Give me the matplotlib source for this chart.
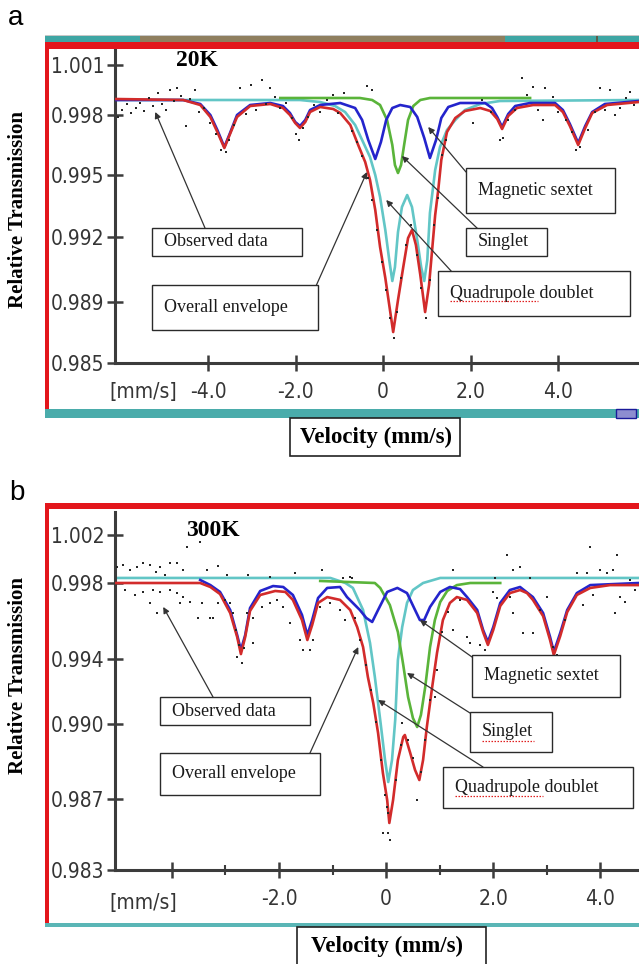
import numpy as np
import matplotlib
matplotlib.use("Agg")
import matplotlib.pyplot as plt
from matplotlib import font_manager
from matplotlib.patches import Rectangle
from matplotlib.lines import Line2D

W, H = 639, 964

# ---------------- panel a : 20 K ----------------
a_sext_v = [-6.13, -4.57, -4.18, -3.95, -3.79, -3.63, -3.50, -3.34, -3.04, -2.58,
            -2.29, -2.13, -2.01, -1.90, -1.78, -1.67, -1.44, -0.98, -0.64, -0.48,
            -0.34, -0.18, -0.05, 0.07, 0.21, 0.39, 0.62, 0.78, 0.94, 1.07,
            1.21, 1.33, 1.49, 1.76, 2.33, 2.49, 2.61, 2.72, 2.86, 3.02,
            3.36, 3.93, 4.11, 4.27, 4.46, 4.62, 4.78, 5.07, 5.85]
a_sext_t = [0.9989, 0.9989, 0.99866, 0.998, 0.99725, 0.9964, 0.9971, 0.998, 0.9986, 0.99872,
            0.99854, 0.99812, 0.99765, 0.99745, 0.99775, 0.9983, 0.9986, 0.99872, 0.99842, 0.99775,
            0.99675, 0.9958, 0.99665, 0.99775, 0.99842, 0.9986, 0.99848, 0.9979, 0.99685, 0.99585,
            0.99675, 0.99785, 0.99848, 0.99872, 0.99872, 0.99842, 0.9979, 0.9974, 0.99806, 0.99854,
            0.99872, 0.99872, 0.9983, 0.99755, 0.9966, 0.99745, 0.99818, 0.99866, 0.99884]

a_env_v = [-6.13, -4.57, -4.18, -3.95, -3.79, -3.63, -3.50, -3.34, -3.04, -2.58,
           -2.29, -2.13, -2.01, -1.90, -1.78, -1.67, -1.44, -1.14, -0.98, -0.75,
           -0.57, -0.41, -0.30, -0.18, -0.07, 0.05, 0.14, 0.23, 0.34, 0.46,
           0.57, 0.66, 0.75, 0.85, 0.96, 1.05, 1.12, 1.19, 1.26, 1.33,
           1.46, 1.65, 1.87, 2.22, 2.45, 2.61, 2.72, 2.86, 3.06, 3.43,
           3.93, 4.11, 4.27, 4.46, 4.62, 4.78, 5.12, 5.85]
a_env_t = [0.99896, 0.9989, 0.9986, 0.9979, 0.99715, 0.99635, 0.99705, 0.9979, 0.99854, 0.99866,
           0.99842, 0.998, 0.9976, 0.99735, 0.99765, 0.99818, 0.99848, 0.99836, 0.99812, 0.9975,
           0.9965, 0.99565, 0.99476, 0.99331, 0.99154, 0.99011, 0.9888, 0.98703, 0.98909, 0.99061,
           0.99195, 0.99234, 0.99163, 0.99025, 0.98834, 0.98978, 0.9914, 0.99306, 0.99427, 0.99575,
           0.99715, 0.99785, 0.99824, 0.99842, 0.99824, 0.9978, 0.9973, 0.99795, 0.99842, 0.9986,
           0.9986, 0.99818, 0.99745, 0.9965, 0.99735, 0.99812, 0.9986, 0.99878]

a_quad_v = [-6.13, -1.90, -1.44, -1.10, -0.87, -0.64, -0.48, -0.30, -0.18, -0.07,
            0.05, 0.14, 0.21, 0.27, 0.34, 0.43, 0.55, 0.66, 0.78, 0.87,
            0.94, 1.01, 1.07, 1.19, 1.30, 1.46, 1.65, 1.87, 2.22, 2.67, 5.85]
a_quad_t = [0.9989, 0.9989, 0.99878, 0.99854, 0.99818, 0.9975, 0.99675, 0.9959, 0.995, 0.99394,
            0.99234, 0.99094, 0.98997, 0.99061, 0.99224, 0.99345, 0.99403, 0.99345, 0.99186, 0.99061,
            0.98997, 0.99094, 0.99316, 0.99525, 0.9964, 0.99725, 0.99775, 0.9983, 0.99866, 0.99884, 0.9989]

a_sing_v = [-2.35, -0.53, -0.25, -0.07, 0.09, 0.21, 0.27, 0.34, 0.41, 0.48, 0.57, 0.69, 0.85, 1.07, 3.36]
a_sing_t = [0.99902, 0.99902, 0.9989, 0.9986, 0.99775, 0.9965, 0.9955, 0.9951, 0.9955, 0.9965,
            0.99775, 0.99854, 0.9989, 0.99902, 0.99902]

a_obs_v = [-6.06, -5.97, -5.85, -5.76, -5.65, -5.55, -5.46, -5.35, -5.26, -5.14,
           -5.05, -4.96, -4.87, -4.78, -4.71, -4.62, -4.50, -4.41, -4.30, -4.21,
           -4.09, -3.95, -3.82, -3.70, -3.59, -3.52, -3.41, -3.27, -3.13, -3.02,
           -2.90, -2.77, -2.67, -2.58, -2.47, -2.35, -2.22, -2.08, -1.99, -1.92,
           -1.83, -1.71, -1.58, -1.44, -1.28, -1.14, -1.03, -0.89, -0.71, -0.59,
           -0.48, -0.34, -0.25, -0.14, -0.02, 0.07, 0.16, 0.25, 0.32, 0.41,
           0.53, 0.64, 0.78, 0.87, 0.98, 1.07, 1.17, 1.26, 1.35, 1.44,
           -0.37, -0.25, 2.06, 2.26, 2.47, 2.67, 2.74, 2.86, 3.02, 3.18,
           3.29, 3.43, 3.54, 3.66, 3.70, 3.89, 4.00, 4.18, 4.32, 4.41,
           4.50, 4.69, 4.85, 4.96, 5.07, 5.19, 5.30, 5.42, 5.55, 5.65, 5.74]
a_obs_t = [0.9979, 0.9983, 0.99866, 0.99812, 0.99842, 0.99872, 0.99824, 0.99902, 0.99854, 0.99932,
           0.99866, 0.9983, 0.9995, 0.99884, 0.99962, 0.99914, 0.99745, 0.99896, 0.9995, 0.99818,
           0.99842, 0.9976, 0.99705, 0.99625, 0.99615, 0.99675, 0.9975, 0.99962, 0.99806, 0.9998,
           0.9983, 1.0001, 0.99866, 0.99962, 0.99908, 0.99842, 0.99872, 0.99785, 0.99705, 0.99675,
           0.99735, 0.9979, 0.9986, 0.99818, 0.9989, 0.9992, 0.99812, 0.99932, 0.9972, 0.99665,
           0.99595, 0.99485, 0.99379, 0.99234, 0.99085, 0.98955, 0.98795, 0.98664, 0.98834, 0.99011,
           0.99163, 0.99258, 0.99117, 0.98965, 0.98795, 0.99001, 0.99258, 0.99389, 0.996, 0.99675,
           0.99974, 0.9995, 0.9976, 0.9989, 0.99818, 0.99675, 0.99685, 0.99775, 0.9983, 1.00022,
           0.9992, 0.99968, 0.9983, 0.99775, 0.99962, 0.99908, 0.99818, 0.99775, 0.99715, 0.99625,
           0.9964, 0.99725, 0.99818, 0.99962, 0.9983, 0.9995, 0.998, 0.99842, 0.99902, 0.99938, 0.9986]

a_yticks = [0.985, 0.989, 0.992, 0.995, 0.998, 1.001]
a_ylabels = ['0.985', '0.989', '0.992', '0.995', '0.998', '1.001']
a_xticks = [-4, -2, 0, 2, 4]
a_xlabels = ['-4.0', '-2.0', '0', '2.0', '4.0']

# ---------------- panel b : 300 K ----------------
b_sext_v = [-3.47, -3.28, -3.10, -2.91, -2.78, -2.71, -2.63, -2.54, -2.35, -2.11,
            -1.92, -1.74, -1.57, -1.47, -1.38, -1.27, -1.10, -0.86, -0.73, -0.49,
            -0.37, -0.26, -0.15, 0.02, 0.21, 0.39, 0.54, 0.63, 0.71, 0.82,
            1.01, 1.19, 1.38, 1.51, 1.70, 1.81, 1.90, 2.00, 2.13, 2.31,
            2.50, 2.74, 2.93, 3.06, 3.13, 3.25, 3.38, 3.56, 3.81, 4.72]
b_sext_t = [0.99825, 0.99789, 0.99753, 0.99658, 0.99526, 0.99447, 0.99526, 0.99668, 0.99758, 0.99784,
            0.99779, 0.99737, 0.99632, 0.99526, 0.99605, 0.99721, 0.99774, 0.99779, 0.99726, 0.99658,
            0.99616, 0.99595, 0.99658, 0.99753, 0.99774, 0.99747, 0.99658, 0.99605, 0.99605, 0.99674,
            0.99753, 0.99779, 0.99768, 0.99726, 0.99658, 0.99553, 0.9949, 0.99568, 0.99695, 0.99763,
            0.99779, 0.99726, 0.99642, 0.99516, 0.99437, 0.99537, 0.99658, 0.99747, 0.99789, 0.998]

b_env_v = [-5.06, -3.47, -3.28, -3.10, -2.91, -2.78, -2.71, -2.63, -2.54, -2.35,
           -2.07, -1.88, -1.74, -1.57, -1.47, -1.38, -1.27, -1.10, -0.86, -0.67,
           -0.54, -0.43, -0.34, -0.24, -0.15, -0.06, 0.02, 0.06, 0.13, 0.22,
           0.32, 0.35, 0.45, 0.54, 0.62, 0.69, 0.76, 0.86, 0.95, 1.06,
           1.19, 1.32, 1.51, 1.70, 1.81, 1.90, 2.00, 2.13, 2.31, 2.50,
           2.63, 2.74, 2.93, 3.06, 3.13, 3.25, 3.38, 3.56, 3.81, 4.18, 4.72]
b_env_t = [0.998, 0.998, 0.99779, 0.99742, 0.99642, 0.99516, 0.99426, 0.99516, 0.99653, 0.99737,
           0.99758, 0.99753, 0.99711, 0.99605, 0.995, 0.99579, 0.99695, 0.99726, 0.99711, 0.99658,
           0.99568, 0.99463, 0.99289, 0.99129, 0.98964, 0.98804, 0.98694, 0.98565, 0.98694, 0.98856,
           0.98948, 0.98956, 0.98884, 0.98816, 0.98776, 0.98856, 0.98988, 0.99228, 0.99432, 0.99605,
           0.99695, 0.99726, 0.99711, 0.99642, 0.99542, 0.99474, 0.99553, 0.99679, 0.99747, 0.99763,
           0.99747, 0.99711, 0.99626, 0.995, 0.99421, 0.99521, 0.99647, 0.99737, 0.99774, 0.99789, 0.99789]

b_quad_v = [-5.06, -1.04, -0.76, -0.62, -0.43, -0.30, -0.21, -0.11, -0.02, 0.04,
            0.11, 0.17, 0.22, 0.30, 0.39, 0.50, 0.69, 1.01, 4.72]
b_quad_t = [0.99842, 0.99842, 0.998, 0.99774, 0.99658, 0.99484, 0.99289, 0.99025, 0.98856, 0.98768,
            0.98856, 0.99025, 0.99394, 0.99568, 0.99695, 0.99763, 0.998, 0.99842, 0.99842]

b_sing_v = [-1.23, -0.21, -0.11, 0.07, 0.22, 0.32, 0.41, 0.50, 0.58, 0.65,
            0.73, 0.82, 0.91, 1.01, 1.14, 1.32, 1.57, 2.13]
b_sing_t = [0.99817, 0.998, 0.99774, 0.99684, 0.99542, 0.99363, 0.99166, 0.99037, 0.98988, 0.99056,
            0.99228, 0.99463, 0.99605, 0.997, 0.99758, 0.99789, 0.998, 0.998]

b_obs_v = [-5.02, -4.91, -4.78, -4.65, -4.53, -4.40, -4.29, -4.22, -4.12, -4.03,
           -3.90, -3.79, -3.71, -3.47, -3.34, -3.13, -2.97, -2.57, -2.16, -1.70,
           -4.87, -4.68, -4.53, -4.40, -4.35, -4.27, -4.22, -4.03, -3.90, -3.84,
           -3.79, -3.66, -3.51, -3.43, -3.28, -3.23, -3.13, -3.00, -2.91, -2.85,
           -2.80, -2.74, -2.78, -2.69, -2.65, -2.59, -2.48, -2.48, -2.31, -2.16,
           -2.03, -1.92, -1.79, -1.60, -1.55, -1.42, -1.36, -1.23,
           -1.19, -1.04, -0.86, -0.80, -0.76, -0.67, -0.63, -0.58, -0.49, -0.37,
           -0.28, -0.19, -0.09, -0.02, 0.02, 0.04, -0.06, 0.04, 0.07, 0.19,
           0.28, 0.30, 0.41, 0.50, 0.58, 0.65, 0.73, 0.82, 0.91, 0.95, 1.04, 1.16,
           1.25, 1.25, 1.38, 1.51, 1.57, 1.75, 1.85, 2.00, 2.03, 2.07,
           2.26, 2.31, 2.37, 2.37, 2.50, 2.56, 2.69, 2.74, 2.87, 3.00,
           3.12, 3.19, 3.34, 3.56, 3.68, 3.75, 3.81, 3.86, 3.99, 4.12,
           4.24, 4.27, 4.31, 4.37, 4.46, 4.55, 4.65]
b_obs_t = [0.99933, 0.9995, 0.99908, 0.99933, 0.99967, 0.9995, 0.99892, 0.99933, 0.99867, 0.99967,
           0.99967, 0.99908, 1.0010, 1.00142, 0.99908, 0.99942, 0.99867, 0.99867, 0.9985, 0.99883,
           0.99763, 0.99737, 0.99753, 0.99695, 0.99763, 0.99642, 0.99753, 0.99763, 0.99747, 0.99695,
           0.99726, 0.997, 0.99616, 0.99695, 0.99616, 0.99616, 0.99695, 0.99711, 0.99695, 0.99642,
           0.99553, 0.99474, 0.99411, 0.99375, 0.99458, 0.99642, 0.99616, 0.99484, 0.99674, 0.99695,
           0.99711, 0.99674, 0.99589, 0.995, 0.99448, 0.99448, 0.995, 0.99674,
           0.99908, 0.99695, 0.99658, 0.99842, 0.99605, 0.9985, 0.99842, 0.99616, 0.995, 0.99363,
           0.99209, 0.99012, 0.98856, 0.98716, 0.98655, 0.98621, 0.98509, 0.98509, 0.98469, 0.98776,
           0.98916, 0.99006, 0.98936, 0.98864, 0.98694, 0.98808, 0.98936, 0.99148, 0.99166, 0.99332, 0.99542, 0.99647,
           0.99908, 0.99553, 0.99711, 0.99516, 0.99484, 0.99474, 0.99448, 0.99753, 0.99842, 0.99721,
           1.00033, 0.99726, 0.99908, 0.99642, 0.99933, 0.99537, 0.99842, 0.99537, 0.99658, 0.99726,
           0.99463, 0.99421, 0.99605, 0.99883, 0.99684, 0.99883, 1.001, 0.99737, 0.99908, 0.99883,
           0.99908, 0.99642, 1.00033, 0.99726, 0.997, 0.99825, 0.99763]

b_yticks = [0.983, 0.987, 0.990, 0.994, 0.998, 1.002]
b_ylabels = ['0.983', '0.987', '0.990', '0.994', '0.998', '1.002']
b_xticks = [-4, -2, 0, 2, 4]
b_xlabels = ['', '-2.0', '0', '2.0', '4.0']
b_xminor = [-3, -1, 1, 3]

# colours of the fit components
C_ENV, C_SEXT, C_SING, C_QUAD = '#d22b2b', '#2424cc', '#5ab43a', '#62c6c6'
RED_FRAME, TEAL = '#e3161c', '#4aacab'

names = {f.name for f in font_manager.fontManager.ttflist}
if 'Liberation Sans Narrow' in names:
    TICKFONT = dict(family='Liberation Sans Narrow', size=18)
else:
    TICKFONT = dict(family='DejaVu Sans', stretch='condensed', size=15)
SERIF = ['Liberation Serif', 'DejaVu Serif']
BOXSIZE = 13

fig = plt.figure(figsize=(W / 100, H / 100), dpi=100)


def fx(x):
    return x / W


def fy(y):
    return 1 - y / H


def rect(x0, y0, x1, y1, **kw):
    fig.add_artist(Rectangle((fx(x0), fy(y1)), (x1 - x0) / W, (y1 - y0) / H,
                             transform=fig.transFigure, **kw))


def piecewise(vals, rise):
    # the original axis has uneven tick spacing: map tick values onto their pixel rise
    v = np.asarray(vals, float)
    r = np.asarray(rise, float)
    lo = (r[1] - r[0]) / (v[1] - v[0])
    hi = (r[-1] - r[-2]) / (v[-1] - v[-2])
    v = np.r_[v[0] - 1.0, v, v[-1] + 1.0]
    r = np.r_[r[0] - lo, r, r[-1] + hi]
    return (lambda x: np.interp(x, v, r)), (lambda y: np.interp(y, r, v))


def panel(box_px, xlim, yticks, ylabels, rise, xticks, xlabels, xminor=None):
    left, top, right, bottom = box_px
    ax = fig.add_axes([fx(left), fy(bottom), (right - left) / W, (bottom - top) / H])
    fwd, inv = piecewise(yticks, rise)
    ax.set_yscale('function', functions=(fwd, inv))
    ax.set_xlim(*xlim)
    ax.set_ylim(yticks[0], float(inv(bottom - top)))
    ax.set_facecolor('none')
    for s in ('top', 'right'):
        ax.spines[s].set_visible(False)
    for s in ('left', 'bottom'):
        ax.spines[s].set_color('#3c3c3c')
        ax.spines[s].set_linewidth(2.2)
    ax.set_yticks(yticks, labels=ylabels, color='#353535', **TICKFONT)
    ax.set_xticks(xticks, labels=xlabels, color='#353535', **TICKFONT)
    ax.yaxis.set_minor_locator(matplotlib.ticker.NullLocator())
    if xminor:
        ax.set_xticks(xminor, minor=True)
    else:
        ax.xaxis.set_minor_locator(matplotlib.ticker.NullLocator())
    ax.tick_params(which='major', direction='inout', length=11, width=1.8, color='#3c3c3c')
    ax.tick_params(which='minor', direction='inout', length=7, width=1.5, color='#3c3c3c')
    ax.tick_params(axis='y', pad=2)
    ax.tick_params(axis='x', pad=8)
    return ax


def draw_curves(ax, quad, sing, sext, env, obs):
    ax.plot(*quad, color=C_QUAD, lw=1.9, zorder=2)
    ax.plot(*sing, color=C_SING, lw=1.9, zorder=3)
    ax.plot(*sext, color=C_SEXT, lw=1.9, zorder=4)
    ax.plot(*env, color=C_ENV, lw=1.9, zorder=5)
    ax.scatter(*obs, s=3.5, marker='s', color='#262626', linewidths=0, zorder=6)


def label_box(x0, y0, x1, y1, text):
    rect(x0, y0, x1, y1, fc='white', ec='#2a2a2a', lw=1.0, zorder=5)
    fig.text(fx(x0 + 12), fy((y0 + y1) / 2), text, ha='left', va='center',
             family=SERIF, size=BOXSIZE, color='#1a1a1a', zorder=6)


def arrow(ax, tip, tail_px):
    ax.annotate('', xy=tip, xycoords='data', xytext=(fx(tail_px[0]), fy(tail_px[1])),
                textcoords='figure fraction', annotation_clip=False,
                arrowprops=dict(arrowstyle='-|>', color='#333333', lw=0.9,
                                mutation_scale=9, shrinkA=0, shrinkB=0), zorder=7)


def squiggle(x0, x1, y):
    fig.add_artist(Line2D([fx(x0), fx(x1)], [fy(y), fy(y)], transform=fig.transFigure,
                          color='#e02020', lw=0.9, ls=(0, (1.2, 1.2)), zorder=7))


# ---------- panel a ----------
rect(45, 35, 639, 36, color='#c8c8c8', lw=0)
rect(45, 36, 140, 42, color='#3ea6a4', lw=0)
rect(140, 36, 505, 42, color='#8f7f5f', lw=0)
rect(505, 36, 639, 42, color='#3ea6a4', lw=0)
rect(596, 36, 598, 42, color='#5c5c48', lw=0)
rect(45, 42, 639, 49, color=RED_FRAME, lw=0)
rect(45, 42, 49, 418, color=RED_FRAME, lw=0)
rect(45, 409, 639, 418, color=TEAL, lw=0)
rect(616, 409, 636, 418, fc='#8d8dd0', ec='#1a1a9a', lw=1)

ax_a = panel((115, 50, 639, 363), (-6.13, 5.85), a_yticks, a_ylabels,
             [0, 61, 126, 188, 248, 298], a_xticks, a_xlabels)
draw_curves(ax_a, (a_quad_v, a_quad_t), (a_sing_v, a_sing_t), (a_sext_v, a_sext_t),
            (a_env_v, a_env_t), (a_obs_v, a_obs_t))

fig.text(fx(16), fy(25), 'a', family=['Liberation Sans', 'DejaVu Sans'], size=20,
         ha='center', va='baseline')
fig.text(fx(197), fy(60), '20K', family=SERIF, weight='bold', size=17, ha='center', va='center')
fig.text(fx(143), fy(392), '[mm/s]', ha='center', va='center', color='#353535', **TICKFONT)
fig.text(fx(18), fy(210), 'Relative Transmission', rotation=90, ha='center', va='center',
         family=SERIF, weight='bold', size=15)
rect(290, 418, 460, 456, fill=False, ec='#222222', lw=1.2, zorder=5)
fig.text(fx(376), fy(437), 'Velocity (mm/s)', ha='center', va='center',
         family=SERIF, weight='bold', size=16.5)

label_box(466, 168, 615, 213, 'Magnetic sextet')
label_box(466, 228, 547, 256, 'Singlet')
label_box(438, 271, 630, 316, 'Quadrupole doublet')
label_box(152, 228, 302, 256, 'Observed data')
label_box(152, 285, 318, 330, 'Overall envelope')
squiggle(450, 538, 301)

arrow(ax_a, (1.03, 0.9974), (466, 172))
arrow(ax_a, (0.43, 0.99595), (478, 229))
arrow(ax_a, (0.07, 0.99379), (452, 272))
arrow(ax_a, (-5.21, 0.99818), (205, 228))
arrow(ax_a, (-0.37, 0.99515), (316, 286))

# ---------- panel b ----------
rect(45, 503, 639, 509, color=RED_FRAME, lw=0)
rect(45, 503, 49, 926, color=RED_FRAME, lw=0)
rect(45, 923, 639, 927, color='#5ab6b6', lw=0)

ax_b = panel((115, 512, 639, 870), (-5.06, 4.72), b_yticks, b_ylabels,
             [0, 71, 146, 211, 287, 335], b_xticks, b_xlabels, b_xminor)
draw_curves(ax_b, (b_quad_v, b_quad_t), (b_sing_v, b_sing_t), (b_sext_v, b_sext_t),
            (b_env_v, b_env_t), (b_obs_v, b_obs_t))

fig.text(fx(17), fy(500), 'b', family=['Liberation Sans', 'DejaVu Sans'], size=20,
         ha='center', va='baseline')
fig.text(fx(213), fy(530), '300K', family=SERIF, weight='bold', size=17, ha='center', va='center')
fig.text(fx(143), fy(903), '[mm/s]', ha='center', va='center', color='#353535', **TICKFONT)
fig.text(fx(18), fy(676), 'Relative Transmission', rotation=90, ha='center', va='center',
         family=SERIF, weight='bold', size=15)
rect(297, 927, 486, 975, fill=False, ec='#222222', lw=1.2, zorder=5)
fig.text(fx(387), fy(946), 'Velocity (mm/s)', ha='center', va='center',
         family=SERIF, weight='bold', size=16.5)

label_box(472, 655, 620, 697, 'Magnetic sextet')
label_box(470, 712, 552, 752, 'Singlet')
label_box(443, 767, 633, 808, 'Quadrupole doublet')
label_box(160, 697, 310, 725, 'Observed data')
label_box(160, 753, 320, 795, 'Overall envelope')
squiggle(455, 543, 796)
squiggle(482, 534, 741)

arrow(ax_b, (0.63, 0.99605), (472, 657))
arrow(ax_b, (0.39, 0.99314), (470, 713))
arrow(ax_b, (-0.15, 0.99148), (483, 767))
arrow(ax_b, (-4.16, 0.99674), (213, 697))
arrow(ax_b, (-0.52, 0.99463), (310, 753))

fig.savefig('out.png', dpi=100)
